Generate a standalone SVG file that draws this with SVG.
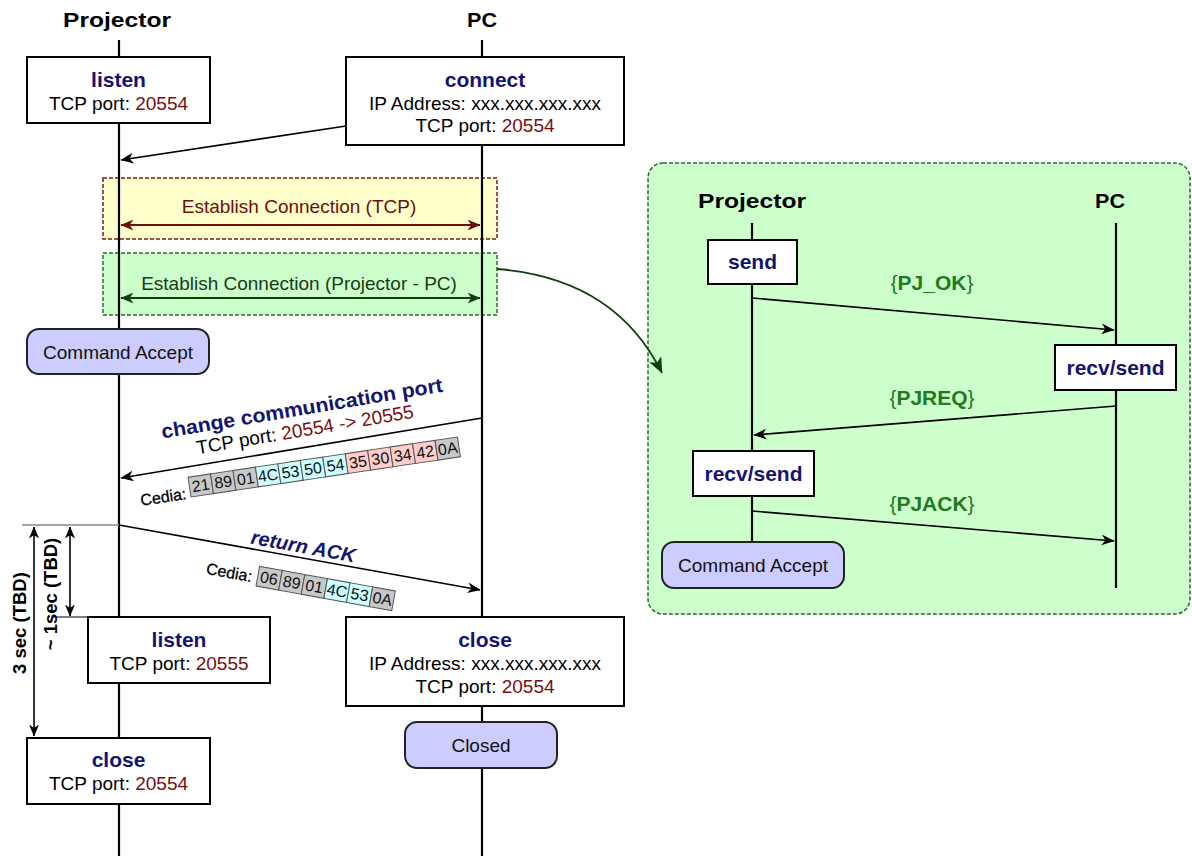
<svg xmlns="http://www.w3.org/2000/svg" width="1192" height="856" viewBox="0 0 1192 856">
<defs>
<style>
text{font-family:"Liberation Sans",Arial,sans-serif}
.hdr{font-size:20px;font-weight:bold;fill:#000}
.ttl{font-size:21px;font-weight:bold;fill:#14146e}
.bd{font-size:19px;fill:#000}
.num{fill:#7a0c0c}
.box{fill:#fff;stroke:#000;stroke-width:2}
.st{fill:#ccccff;stroke:#222;stroke-width:2}
.life{stroke:#000;stroke-width:2.2}
.msg{stroke:#000;stroke-width:1.6;fill:none}
.lbl{font-size:21px;font-weight:bold;fill:#1e7b1e}
.cg{fill:#c8c8c8;stroke:#555;stroke-width:1}
.cc{fill:#ccffff;stroke:#555;stroke-width:1}
.cp{fill:#ffcccc;stroke:#555;stroke-width:1}
.ct{font-size:16px;fill:#111;text-anchor:middle}
.ced{font-size:16px;fill:#000;stroke:#000;stroke-width:0.3}
.dim{font-size:18.5px;font-weight:bold;fill:#000}
</style>
<marker id="ah" viewBox="0 0 12 10" refX="11.5" refY="5" markerWidth="13" markerHeight="11" orient="auto-start-reverse" markerUnits="userSpaceOnUse"><path d="M0,0 L12,5 L0,10 L3.5,5 z" fill="#000"/></marker>
<marker id="ahr" viewBox="0 0 12 10" refX="11.5" refY="5" markerWidth="13" markerHeight="11" orient="auto-start-reverse" markerUnits="userSpaceOnUse"><path d="M0,0 L12,5 L0,10 L3.5,5 z" fill="#6b0f0f"/></marker>
<marker id="ahg" viewBox="0 0 12 10" refX="11.5" refY="5" markerWidth="13" markerHeight="11" orient="auto-start-reverse" markerUnits="userSpaceOnUse"><path d="M0,0 L12,5 L0,10 L3.5,5 z" fill="#0f3f0f"/></marker>
<marker id="ahc" viewBox="0 0 12 10" refX="11.5" refY="5" markerWidth="16" markerHeight="14" orient="auto" markerUnits="userSpaceOnUse"><path d="M0,0 L12,5 L0,10 L3,5 z" fill="#0f3f0f"/></marker>
<marker id="ahd" viewBox="0 0 12 10" refX="11.5" refY="5" markerWidth="12" markerHeight="10" orient="auto-start-reverse" markerUnits="userSpaceOnUse"><path d="M0,0 L12,5 L0,10 L3.5,5 z" fill="#000"/></marker>
</defs>
<rect width="1192" height="856" fill="#fff"/>

<g id="detail-panel">
<rect x="648" y="163" width="542" height="451" rx="15" fill="#ccffcc" stroke="#2a6a2a" stroke-width="1.5" stroke-dasharray="4,2"/>
</g>

<g id="establish-tcp">
<rect x="103" y="178" width="394" height="61" fill="#ffffcc" stroke="#7a1a1a" stroke-width="1.5" stroke-dasharray="4,2"/>
<text x="299" y="213" text-anchor="middle" style="font-size:19px;fill:#6b0f0f">Establish Connection (TCP)</text>
</g>
<g id="establish-pc">
<rect x="103" y="253" width="394" height="62" fill="#ccffcc" stroke="#2a6a2a" stroke-width="1.5" stroke-dasharray="4,2"/>
<text x="299" y="290" text-anchor="middle" style="font-size:19px;fill:#1a3a1a">Establish Connection (Projector - PC)</text>
</g>

<g id="lifelines">
<text class="hdr" x="117" y="27" text-anchor="middle" textLength="108" lengthAdjust="spacingAndGlyphs">Projector</text>
<text class="hdr" x="482" y="27" text-anchor="middle" textLength="30" lengthAdjust="spacingAndGlyphs">PC</text>
<line class="life" x1="119" y1="40" x2="119" y2="856"/>
<line class="life" x1="482" y1="40" x2="482" y2="856"/>
<text class="hdr" x="752" y="208" text-anchor="middle" textLength="108" lengthAdjust="spacingAndGlyphs">Projector</text>
<text class="hdr" x="1110" y="208" text-anchor="middle" textLength="30" lengthAdjust="spacingAndGlyphs">PC</text>
<line class="life" x1="752" y1="223" x2="752" y2="542"/>
<line class="life" x1="1116" y1="223" x2="1116" y2="588"/>
</g>

<g id="connectors">
<line class="msg" x1="346" y1="126" x2="121" y2="160" marker-end="url(#ah)"/>
<line x1="121" y1="225" x2="480" y2="225" stroke="#6b0f0f" stroke-width="2" marker-start="url(#ahr)" marker-end="url(#ahr)"/>
<line x1="121" y1="298" x2="480" y2="298" stroke="#0f3f0f" stroke-width="2" marker-start="url(#ahg)" marker-end="url(#ahg)"/>
<path d="M497,269 Q615,278 662,373" fill="none" stroke="#0f3f0f" stroke-width="1.8" marker-end="url(#ahc)"/>
<line class="msg" x1="482" y1="418" x2="121" y2="478" marker-end="url(#ah)"/>
<line class="msg" x1="119" y1="525" x2="480" y2="590" marker-end="url(#ah)"/>
<line x1="22" y1="525" x2="119" y2="525" stroke="#888" stroke-width="1.5"/>
<line x1="53" y1="617" x2="88" y2="617" stroke="#555" stroke-width="1.5"/>
<line x1="34" y1="527" x2="34" y2="736" stroke="#000" stroke-width="1.6" marker-start="url(#ahd)" marker-end="url(#ahd)"/>
<line x1="70" y1="527" x2="70" y2="616" stroke="#000" stroke-width="1.6" marker-start="url(#ahd)" marker-end="url(#ahd)"/>
<line class="msg" x1="752" y1="298" x2="1114" y2="330" marker-end="url(#ah)"/>
<line class="msg" x1="1116" y1="406" x2="754" y2="435" marker-end="url(#ah)"/>
<line class="msg" x1="752" y1="511" x2="1114" y2="541" marker-end="url(#ah)"/>
</g>

<g id="change-port-label">
<text class="ttl" transform="translate(303,415) rotate(-9.5)" text-anchor="middle" textLength="285" lengthAdjust="spacingAndGlyphs" style="font-size:20px">change communication port</text>
<text class="bd" transform="translate(306,436) rotate(-9.5)" text-anchor="middle">TCP port: <tspan class="num">20554 -&gt; 20555</tspan></text>
<text class="ced" transform="translate(187,499) rotate(-8.5)" text-anchor="end">Cedia:</text>
<g transform="translate(191,497) rotate(-8.5)">
<rect class="cg" x="0" y="-20" width="22.7" height="20"/><text class="ct" x="11.35" y="-4.5">21</text>
<rect class="cg" x="22.7" y="-20" width="22.7" height="20"/><text class="ct" x="34.05" y="-4.5">89</text>
<rect class="cg" x="45.4" y="-20" width="22.7" height="20"/><text class="ct" x="56.75" y="-4.5">01</text>
<rect class="cc" x="68.1" y="-20" width="22.7" height="20"/><text class="ct" x="79.45" y="-4.5">4C</text>
<rect class="cc" x="90.8" y="-20" width="22.7" height="20"/><text class="ct" x="102.15" y="-4.5">53</text>
<rect class="cc" x="113.5" y="-20" width="22.7" height="20"/><text class="ct" x="124.85" y="-4.5">50</text>
<rect class="cc" x="136.2" y="-20" width="22.7" height="20"/><text class="ct" x="147.55" y="-4.5">54</text>
<rect class="cp" x="158.9" y="-20" width="22.7" height="20"/><text class="ct" x="170.25" y="-4.5">35</text>
<rect class="cp" x="181.6" y="-20" width="22.7" height="20"/><text class="ct" x="192.95" y="-4.5">30</text>
<rect class="cp" x="204.3" y="-20" width="22.7" height="20"/><text class="ct" x="215.65" y="-4.5">34</text>
<rect class="cp" x="227" y="-20" width="22.7" height="20"/><text class="ct" x="238.35" y="-4.5">42</text>
<rect class="cg" x="249.7" y="-20" width="22.7" height="20"/><text class="ct" x="261.05" y="-4.5">0A</text>
</g>
</g>

<g id="return-ack-label">
<text class="ttl" transform="translate(302,553) rotate(10.3)" text-anchor="middle" style="font-size:20px;font-style:italic">return ACK</text>
<text class="ced" transform="translate(251,582) rotate(10.3)" text-anchor="end">Cedia:</text>
<g transform="translate(256,586) rotate(10.3)">
<rect class="cg" x="0" y="-20" width="23" height="20"/><text class="ct" x="11.5" y="-4.5">06</text>
<rect class="cg" x="23" y="-20" width="23" height="20"/><text class="ct" x="34.5" y="-4.5">89</text>
<rect class="cg" x="46" y="-20" width="23" height="20"/><text class="ct" x="57.5" y="-4.5">01</text>
<rect class="cc" x="69" y="-20" width="23" height="20"/><text class="ct" x="80.5" y="-4.5">4C</text>
<rect class="cc" x="92" y="-20" width="23" height="20"/><text class="ct" x="103.5" y="-4.5">53</text>
<rect class="cg" x="115" y="-20" width="23" height="20"/><text class="ct" x="126.5" y="-4.5">0A</text>
</g>
</g>

<g id="timing-labels">
<text class="dim" transform="translate(26,623) rotate(-90)" text-anchor="middle">3 sec (TBD)</text>
<text class="dim" transform="translate(57,594) rotate(-90)" text-anchor="middle">~ 1sec (TBD)</text>
</g>

<g id="listen-20554">
<rect class="box" x="27" y="57" width="183" height="66"/>
<text class="ttl" x="118.5" y="87" text-anchor="middle">listen</text>
<text class="bd" x="118.5" y="110" text-anchor="middle">TCP port: <tspan class="num">20554</tspan></text>
</g>
<g id="connect">
<rect class="box" x="346" y="57" width="278" height="88"/>
<text class="ttl" x="485" y="87" text-anchor="middle">connect</text>
<text class="bd" x="485" y="110" text-anchor="middle">IP Address: xxx.xxx.xxx.xxx</text>
<text class="bd" x="485" y="132" text-anchor="middle">TCP port: <tspan class="num">20554</tspan></text>
</g>
<g id="command-accept">
<rect class="st" x="27" y="329" width="182" height="45" rx="12"/>
<text x="118" y="359" text-anchor="middle" style="font-size:19px;fill:#111">Command Accept</text>
</g>
<g id="listen-20555">
<rect class="box" x="88" y="617" width="182" height="66"/>
<text class="ttl" x="179" y="647" text-anchor="middle">listen</text>
<text class="bd" x="179" y="670" text-anchor="middle">TCP port: <tspan class="num">20555</tspan></text>
</g>
<g id="close-pc">
<rect class="box" x="346" y="617" width="278" height="89"/>
<text class="ttl" x="485" y="647" text-anchor="middle">close</text>
<text class="bd" x="485" y="670" text-anchor="middle">IP Address: xxx.xxx.xxx.xxx</text>
<text class="bd" x="485" y="693" text-anchor="middle">TCP port: <tspan class="num">20554</tspan></text>
</g>
<g id="closed">
<rect class="st" x="405" y="722" width="152" height="46" rx="12"/>
<text x="481" y="752" text-anchor="middle" style="font-size:19px;fill:#111">Closed</text>
</g>
<g id="close-projector">
<rect class="box" x="27" y="738" width="183" height="66"/>
<text class="ttl" x="118.5" y="767" text-anchor="middle">close</text>
<text class="bd" x="118.5" y="790" text-anchor="middle">TCP port: <tspan class="num">20554</tspan></text>
</g>

<g id="send">
<rect class="box" x="708" y="240" width="89" height="44"/>
<text class="ttl" x="752.5" y="269" text-anchor="middle">send</text>
</g>
<g id="recv-send-pc">
<rect class="box" x="1055" y="345" width="121" height="45"/>
<text class="ttl" x="1115.5" y="375" text-anchor="middle">recv/send</text>
</g>
<g id="recv-send-projector">
<rect class="box" x="693" y="451" width="121" height="45"/>
<text class="ttl" x="753.5" y="481" text-anchor="middle">recv/send</text>
</g>
<g id="command-accept-2">
<rect class="st" x="662" y="542" width="182" height="46" rx="12"/>
<text x="753" y="572" text-anchor="middle" style="font-size:19px;fill:#111">Command Accept</text>
</g>
<g id="detail-labels">
<text class="lbl" x="932" y="290" text-anchor="middle"><tspan font-weight="normal">{</tspan>PJ_OK<tspan font-weight="normal">}</tspan></text>
<text class="lbl" x="932" y="405" text-anchor="middle"><tspan font-weight="normal">{</tspan>PJREQ<tspan font-weight="normal">}</tspan></text>
<text class="lbl" x="932" y="511" text-anchor="middle"><tspan font-weight="normal">{</tspan>PJACK<tspan font-weight="normal">}</tspan></text>
</g>
</svg>
